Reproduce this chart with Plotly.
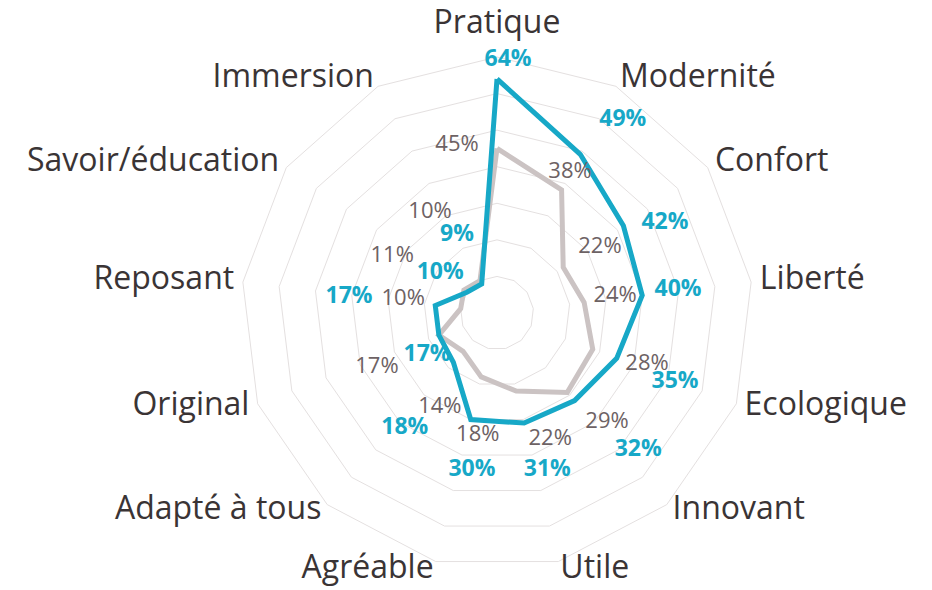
import plotly.graph_objects as go

categories = [
    "Pratique",
    "Modernité",
    "Confort",
    "Liberté",
    "Ecologique",
    "Innovant",
    "Utile",
    "Agréable",
    "Adapté à tous",
    "Original",
    "Reposant",
    "Savoir/éducation",
    "Immersion",
]

blue_values = [64, 49, 42, 40, 35, 32, 31, 30, 18, 17, 17, 10, 9]
grey_values = [45, 38, 22, 24, 28, 29, 22, 18, 14, 17, 10, 11, 10]

# label nudges (radial in %, angular in degrees) to mimic the hand-placed labels
blue_dr = [5.2, 14, 10.1, 9.9, 17.2, 21.8, 14.1, 13.5, 22.3, 5.3, 23.7, 9, 15]
blue_dt = [2.5, 5.4, 6.4, -0.3, 0.4, -4.3, -3.9, -4.8, -2.8, -10.2, -0.7, 0.5, 0.6]
grey_dr = [2.2, 5.4, 11.3, 8.6, 15.4, 13.5, 15.6, 15.8, 16.3, 19.1, 15.9, 21.5, 23.1]
grey_dt = [-13.4, -0.3, 2.3, -0.8, -1.7, -3.5, -8.9, -4.9, -10.5, -3.8, 1.0, -6.5, -5.9]

BLUE = "#17a8c7"
GREY_LINE = "#cbc3c3"
GREY_TEXT = "#6d6264"
GRID = "#e4e0e0"
LABEL = "#3a3435"
FONT = "Open Sans"

step = 360 / len(categories)
base_angles = [i * step for i in range(len(categories))]


def side(a):
    # where the category label sits relative to its anchor point
    if a < 1 or a > 359:
        return "top center"
    return "middle right" if a < 180 else "middle left"


fig = go.Figure()

# series lines (closed polygons)
fig.add_trace(
    go.Scatterpolar(
        r=grey_values + grey_values[:1],
        theta=categories + categories[:1],
        mode="lines",
        line=dict(color=GREY_LINE, width=5),
        name="Série 2",
        subplot="polar",
    )
)
fig.add_trace(
    go.Scatterpolar(
        r=blue_values + blue_values[:1],
        theta=categories + categories[:1],
        mode="lines",
        line=dict(color=BLUE, width=5),
        name="Série 1",
        subplot="polar",
    )
)

# category labels, on an overlaid numeric polar so they can sit like the original
fig.add_trace(
    go.Scatterpolar(
        r=[74.4 if side(a) == "top center" else 72.4 for a in base_angles],
        theta=base_angles,
        mode="text",
        text=categories,
        textposition=[side(a) for a in base_angles],
        textfont=dict(family=FONT, size=32, color=LABEL),
        cliponaxis=False,
        subplot="polar2",
        hoverinfo="skip",
    )
)

# data labels
fig.add_trace(
    go.Scatterpolar(
        r=[v + d for v, d in zip(grey_values, grey_dr)],
        theta=[a + d for a, d in zip(base_angles, grey_dt)],
        mode="text",
        text=[f"{v}%" for v in grey_values],
        textfont=dict(family=FONT, size=22, color=GREY_TEXT),
        cliponaxis=False,
        subplot="polar2",
        hoverinfo="skip",
    )
)
fig.add_trace(
    go.Scatterpolar(
        r=[v + d for v, d in zip(blue_values, blue_dr)],
        theta=[a + d for a, d in zip(base_angles, blue_dt)],
        mode="text",
        text=[f"<b>{v}%</b>" for v in blue_values],
        textfont=dict(family=FONT, size=23, color=BLUE),
        cliponaxis=False,
        subplot="polar2",
        hoverinfo="skip",
    )
)

# page body has an 8px margin, so the figure is 8px smaller than the window
W, H = 924, 582
cx, cy, R = 489, 305, 256
R2 = 277  # overlay polar is larger so the outer labels stay inside its range
rmax = 70


def domain(radius):
    return dict(
        x=[(cx - radius) / W, (cx + radius) / W],
        y=[(H - cy - radius) / H, (H - cy + radius) / H],
    )


fig.update_layout(
    width=W,
    height=H,
    margin=dict(l=0, r=0, t=0, b=0),
    paper_bgcolor="white",
    showlegend=False,
    polar=dict(
        domain=domain(R),
        bgcolor="white",
        gridshape="linear",
        radialaxis=dict(
            range=[0, rmax],
            dtick=10,
            showticklabels=False,
            ticks="",
            showline=False,
            gridcolor=GRID,
            gridwidth=1,
        ),
        angularaxis=dict(
            type="category",
            rotation=90,
            direction="clockwise",
            showgrid=False,
            showticklabels=False,
            ticks="",
            linecolor=GRID,
            linewidth=1,
        ),
    ),
    polar2=dict(
        domain=domain(R2),
        bgcolor="rgba(0,0,0,0)",
        radialaxis=dict(range=[0, rmax * R2 / R], visible=False),
        angularaxis=dict(
            type="linear",
            thetaunit="degrees",
            rotation=90,
            direction="clockwise",
            visible=False,
        ),
    ),
)

fig.write_html("out.html")
